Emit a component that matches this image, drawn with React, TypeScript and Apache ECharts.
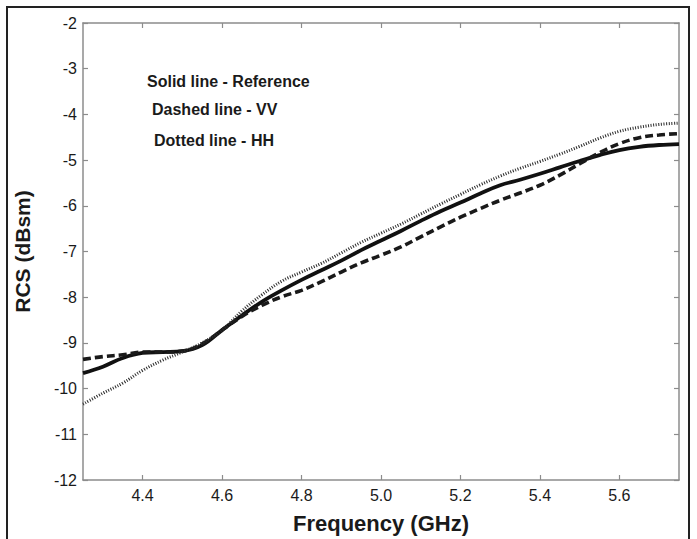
import React, { useEffect, useRef } from "react";
import * as echarts from "echarts";

const freq = [4.25, 4.3, 4.35, 4.4, 4.45, 4.5, 4.55, 4.6, 4.65, 4.7, 4.75, 4.8, 4.85, 4.9, 4.95, 5.0, 5.05, 5.1, 5.15, 5.2, 5.25, 5.3, 5.35, 5.4, 5.45, 5.5, 5.55, 5.6, 5.65, 5.7, 5.75];

const solidRef = [-9.66, -9.52, -9.33, -9.22, -9.2, -9.18, -9.05, -8.72, -8.4, -8.1, -7.85, -7.62, -7.41, -7.2, -6.97, -6.76, -6.55, -6.33, -6.12, -5.93, -5.73, -5.55, -5.43, -5.3, -5.16, -5.02, -4.89, -4.78, -4.71, -4.67, -4.65];

const dashedVV = [-9.36, -9.3, -9.26, -9.2, -9.2, -9.18, -9.02, -8.72, -8.42, -8.18, -7.99, -7.85, -7.66, -7.45, -7.25, -7.08, -6.9, -6.68, -6.46, -6.25, -6.06, -5.88, -5.72, -5.55, -5.33, -5.08, -4.84, -4.64, -4.51, -4.45, -4.42];

const dottedHH = [-10.34, -10.1, -9.88, -9.6, -9.38, -9.2, -9.0, -8.72, -8.3, -7.95, -7.65, -7.45, -7.26, -7.03, -6.8, -6.6, -6.4, -6.18, -5.96, -5.75, -5.54, -5.35, -5.18, -5.03, -4.87, -4.7, -4.52, -4.37, -4.28, -4.22, -4.19];

const xTicks = [4.4, 4.6, 4.8, 5.0, 5.2, 5.4, 5.6];

const annotations = ["Solid line - Reference", "Dashed line - VV", "Dotted line - HH"];

const FONT = "'Liberation Sans', Arial, sans-serif";

export default function App() {
  const ref = useRef<HTMLDivElement>(null);
  useEffect(() => {
    if (!ref.current) return;
    const chart = echarts.init(ref.current, undefined, { renderer: "svg" });
    const pairs = (ys: number[]) => freq.map((f, i) => [f, ys[i]]);
    const axisLine = { show: true, lineStyle: { color: "#8c8c8c", width: 1.5 } };
    const tickStyle = { color: "#8c8c8c", width: 1.2 };
    const annStyle = { fontSize: 16, fontWeight: "bold", fill: "#1a1a1a", fontFamily: FONT, verticalAlign: "middle" };
    chart.setOption({
      animation: false,
      backgroundColor: "#ffffff",
      grid: { left: 83, right: 18, top: 23, bottom: 46, containLabel: false },
      xAxis: [
        {
          type: "value",
          min: 4.25,
          max: 5.75,
          position: "bottom",
          axisLine,
          axisTick: { show: true, inside: true, length: 5, lineStyle: tickStyle, customValues: xTicks },
          axisLabel: {
            customValues: xTicks,
            formatter: (v: number) => v.toFixed(1),
            fontSize: 16,
            color: "#1a1a1a",
            fontFamily: FONT,
            margin: 7,
          },
          splitLine: { show: false },
          name: "Frequency (GHz)",
          nameLocation: "middle",
          nameGap: 32,
          nameTextStyle: { fontSize: 22, fontWeight: "bold", color: "#1a1a1a", fontFamily: FONT },
        },
        {
          type: "value",
          min: 4.25,
          max: 5.75,
          position: "top",
          axisLine,
          axisTick: { show: true, inside: true, length: 5, lineStyle: tickStyle, customValues: xTicks },
          axisLabel: { show: false },
          splitLine: { show: false },
        },
      ],
      yAxis: [
        {
          type: "value",
          min: -12,
          max: -2,
          interval: 1,
          position: "left",
          axisLine,
          axisTick: { show: true, inside: true, length: 5, lineStyle: tickStyle },
          axisLabel: { fontSize: 16, color: "#1a1a1a", fontFamily: FONT, margin: 6 },
          splitLine: { show: false },
          name: "RCS (dBsm)",
          nameLocation: "middle",
          nameGap: 50,
          nameTextStyle: { fontSize: 21, fontWeight: "bold", color: "#1a1a1a", fontFamily: FONT },
        },
        {
          type: "value",
          min: -12,
          max: -2,
          interval: 1,
          position: "right",
          axisLine,
          axisTick: { show: true, inside: true, length: 5, lineStyle: tickStyle },
          axisLabel: { show: false },
          splitLine: { show: false },
        },
      ],
      series: [
        {
          name: "Reference",
          type: "line",
          data: pairs(solidRef),
          smooth: 0.4,
          showSymbol: false,
          lineStyle: { color: "#111111", width: 3.8, type: "solid" },
        },
        {
          name: "VV",
          type: "line",
          data: pairs(dashedVV),
          smooth: 0.4,
          showSymbol: false,
          lineStyle: { color: "#1a1a1a", width: 3.6, type: [8, 4] },
        },
        {
          name: "HH",
          type: "line",
          data: pairs(dottedHH),
          smooth: 0.4,
          showSymbol: false,
          lineStyle: { color: "#2a2a2a", width: 3, type: [1, 1.6] },
        },
      ],
      graphic: [
        {
          type: "rect",
          shape: { x: 7, y: 7, width: 682, height: 560 },
          style: { fill: "none", stroke: "#222222", lineWidth: 2 },
          silent: true,
        },
        { type: "text", x: 147, y: 81, style: { text: annotations[0], ...annStyle } },
        { type: "text", x: 152, y: 109, style: { text: annotations[1], ...annStyle } },
        { type: "text", x: 154, y: 140, style: { text: annotations[2], ...annStyle } },
      ],
    });
    return () => chart.dispose();
  }, []);
  return <div ref={ref} style={{ position: "absolute", left: 0, top: 0, width: 697, height: 539 }} />;
}
